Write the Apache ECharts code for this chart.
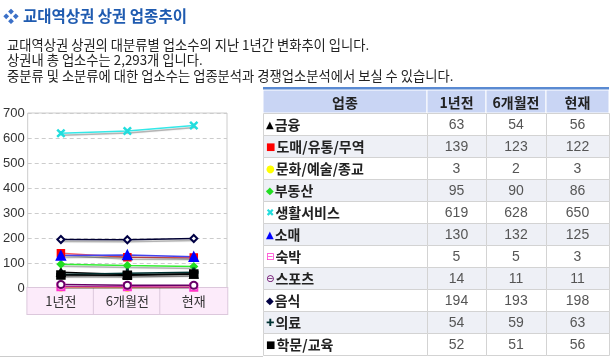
<!DOCTYPE html>
<html>
<head>
<meta charset="utf-8">
<script src="https://cdn.jsdelivr.net/npm/echarts@6/dist/echarts.min.js"></script>
<style>
html,body{margin:0;padding:0;background:#fff;}
#c{width:612px;height:358px;}
</style>
</head>
<body>
<div id="c"></div>
<script>
// ---- data ----
var categories = ['1년전', '6개월전', '현재'];
var names = ['금융', '도매/유통/무역', '문화/예술/종교', '부동산', '생활서비스', '소매', '숙박', '스포츠', '음식', '의료', '학문/교육'];
var vYearAgo = [63, 139, 3, 95, 619, 130, 5, 14, 194, 54, 52];
var vHalfAgo = [54, 123, 2, 90, 628, 132, 5, 11, 193, 59, 51];
var vNow = [56, 122, 3, 86, 650, 125, 3, 11, 198, 63, 56];
var headers = ['업종', '1년전', '6개월전', '현재'];
var titleText = '교대역상권 상권 업종추이';
var descLines = [
  '교대역상권 상권의 대분류별 업소수의 지난 1년간 변화추이 입니다.',
  '상권내 총 업소수는 2,293개 입니다.',
  '중분류 및 소분류에 대한 업소수는 업종분석과 경쟁업소분석에서 보실 수 있습니다.'
];

// ---- styles ----
var XMARK = 'path://M1,0 L5,4 L9,0 L10,1 L6,5 L10,9 L9,10 L5,6 L1,10 L0,9 L4,5 L0,1Z';
var PLUS = 'path://M4,0H6V4H10V6H6V10H4V6H0V4H4Z';
var styles = [
  {line: '#000000', sym: 'triangle', fill: '#000000', icon: '▲', size: 8},
  {line: '#ff5a5a', sym: 'rect', fill: '#ff0000', icon: '■', size: 7},
  {line: '#ffff33', sym: 'circle', fill: '#ffff00', icon: '●', size: 7},
  {line: '#33ee33', sym: 'diamond', fill: '#22dd22', icon: '◆', size: 7},
  {line: '#33e8e8', sym: XMARK, fill: '#22dddd', icon: '✖', size: 7},
  {line: '#4444ee', sym: 'triangle', fill: '#0000ff', icon: '▲', size: 9},
  {line: '#ff33cc', sym: 'emptyRect', fill: '#ff33cc', icon: '⊟', size: 7},
  {line: '#660066', sym: 'emptyCircle', fill: '#660066', icon: '⊖', size: 7},
  {line: '#000033', sym: 'emptyDiamond', fill: '#000044', icon: '◆', size: 7},
  {line: '#003333', sym: PLUS, fill: '#003333', icon: '✚', size: 8},
  {line: '#000000', sym: 'rect', fill: '#000000', icon: '■', size: 8}
];

var FONT = '"Noto Sans CJK KR", "Noto Sans", sans-serif';
var NUMFONT = '"Liberation Sans", Arial, sans-serif';

var series = names.map(function (n, i) {
  var s = styles[i];
  return {
    name: n,
    type: 'line',
    data: [vYearAgo[i], vHalfAgo[i], vNow[i]],
    symbol: s.sym,
    symbolSize: s.size,
    showAllSymbol: true,
    itemStyle: {color: s.fill, borderColor: s.fill, borderWidth: 1.5},
    lineStyle: {color: s.line, width: 1.6, shadowColor: 'rgba(0,0,0,0.35)', shadowOffsetX: 1, shadowOffsetY: 2, shadowBlur: 1},
    emphasis: {disabled: true},
    animation: false,
    z: 3 + (i === 8 ? 1 : 0)
  };
});

// ---- table & header graphics ----
var graphics = [];
graphics.push({type: 'text', style: {text: '❖', x: 3, y: 16, font: '16px ' + FONT, fill: '#3b70c8', verticalAlign: 'middle'}});
graphics.push({type: 'text', style: {text: titleText, x: 23, y: 16, font: 'bold 15.5px ' + FONT, fill: '#1f5bb0', verticalAlign: 'middle'}});
var descY = [45, 60, 76];
descLines.forEach(function (t, i) {
  graphics.push({type: 'text', style: {text: t, x: 7, y: descY[i], font: '13.3px ' + FONT, fill: '#222', verticalAlign: 'middle'}});
});
graphics.push({type: 'rect', shape: {x: 0, y: 356, width: 263, height: 1}, style: {fill: '#cccccc'}});

var colX = [263, 427, 486, 546, 609];
var headTop = 90, headH = 23, rowH = 22;
graphics.push({type: 'rect', shape: {x: colX[0], y: 87, width: colX[4] - colX[0], height: 3}, style: {fill: '#5a8ad2'}});
for (var c = 0; c < 4; c++) {
  graphics.push({type: 'rect', shape: {x: colX[c], y: headTop, width: colX[c + 1] - colX[c], height: headH},
    style: {fill: '#c9d5f4', stroke: '#ffffff', lineWidth: 1}});
  graphics.push({type: 'text', style: {text: headers[c], x: (colX[c] + colX[c + 1]) / 2, y: headTop + headH / 2 + 1,
    font: 'bold 14px ' + FONT, fill: '#222', align: 'center', verticalAlign: 'middle'}});
}
names.forEach(function (n, r) {
  var y = headTop + headH + r * rowH;
  var bg = r % 2 === 1 ? '#eef0f6' : '#ffffff';
  var vals = [vYearAgo[r], vHalfAgo[r], vNow[r]];
  for (var c = 0; c < 4; c++) {
    graphics.push({type: 'rect', shape: {x: colX[c] + 0.5, y: y + 0.5, width: colX[c + 1] - colX[c], height: rowH},
      style: {fill: bg, stroke: '#d3d3d3', lineWidth: 1}});
  }
  graphics.push({type: 'text', style: {
    text: '{i|' + styles[r].icon + '}{t|' + n + '}', x: colX[0] + 3, y: y + rowH / 2 + 1,
    verticalAlign: 'middle',
    rich: {
      i: {fontSize: 10, fill: styles[r].fill, fontFamily: 'DejaVu Sans', padding: [0, 1, 0, 0]},
      t: {fontSize: 14, fontWeight: 'bold', fill: '#222', fontFamily: FONT}
    }
  }});
  for (var k = 0; k < 3; k++) {
    graphics.push({type: 'text', style: {text: String(vals[k]), x: (colX[k + 1] + colX[k + 2]) / 2, y: y + rowH / 2 + 1,
      font: '14px ' + NUMFONT, fill: '#555', align: 'center', verticalAlign: 'middle'}});
  }
});

var chart = echarts.init(document.getElementById('c'), null, {renderer: 'canvas'});
chart.setOption({
  animation: false,
  textStyle: {fontFamily: FONT},
  grid: {left: 22, top: 113, width: 205, height: 175, show: true, borderColor: '#cccccc', borderWidth: 1, backgroundColor: 'transparent', containLabel: false},
  xAxis: {
    type: 'category',
    data: categories,
    boundaryGap: true,
    axisLine: {show: true, lineStyle: {color: '#d8c4d8'}},
    axisTick: {show: false},
    splitLine: {show: false},
    axisLabel: {
      interval: 0,
      margin: 0,
      width: 67,
      height: 26,
      lineHeight: 26,
      align: 'center',
      backgroundColor: '#fcebfa',
      borderColor: '#dcc8dc',
      borderWidth: 1,
      color: '#333',
      fontSize: 13,
      fontFamily: FONT
    }
  },
  yAxis: {
    type: 'value',
    min: 0,
    max: 700,
    interval: 100,
    axisLine: {show: false},
    axisTick: {show: false},
    axisLabel: {margin: 3, color: '#333', fontSize: 13, fontFamily: NUMFONT},
    splitLine: {show: true, lineStyle: {color: '#cccccc', type: [4, 3]}}
  },
  series: series,
  graphic: graphics
});
</script>
</body>
</html>
